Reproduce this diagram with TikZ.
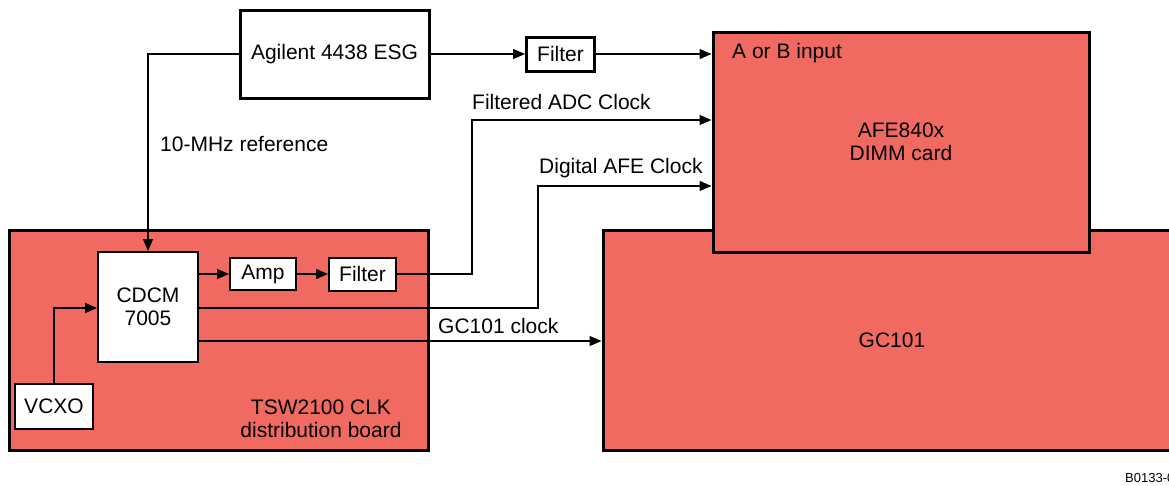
\documentclass[tikz,border=0pt]{standalone}
\usepackage{fontspec}
\setmainfont{Liberation Sans}
\usetikzlibrary{arrows.meta}
\definecolor{boardred}{RGB}{240,106,98}
\begin{document}
\begin{tikzpicture}[x=1pt,y=-1pt, font=\fontsize{21}{23}\selectfont,
  board/.style={draw=black, line width=3pt, fill=boardred, inner sep=0pt, align=center},
  blk/.style={draw=black, line width=2pt, fill=white, inner sep=0pt, align=center},
  lbl/.style={inner sep=0pt, anchor=west},
  conn/.style={line width=1.2pt, -{Triangle[length=12pt,width=10pt]}}]
\useasboundingbox (0,0) rectangle (1169,485);
% boards
\node[board, minimum width=419pt, minimum height=220pt] (tsw) at (219,340) {};
\node[board, minimum width=578pt, minimum height=220pt] (gc) at (892,340) {GC101};
\node[board, minimum width=376pt, minimum height=220pt] (afe) at (901,142) {AFE840x\\DIMM card};
\node[align=center, inner sep=0pt] (tswlbl) at (321,419) {TSW2100 CLK\\distribution board};
% blocks
\node[blk, line width=3pt, minimum width=189pt, minimum height=88pt] (agilent) at (334.5,54) {Agilent 4438 ESG};
\node[blk, line width=3pt, minimum width=68pt, minimum height=34pt] (filt1) at (560.5,54) {Filter};
\node[blk, minimum width=100pt, minimum height=110pt] (cdcm) at (148,307) {CDCM\\7005};
\node[blk, minimum width=66pt, minimum height=32pt] (amp) at (263,274) {Amp};
\node[blk, minimum width=67pt, minimum height=33pt] (filt2) at (362.5,274) {Filter};
\node[blk, minimum width=78pt, minimum height=45pt] (vcxo) at (54,406) {VCXO};
% helper coordinates
\coordinate (adc) at (472,120);
\coordinate (dig) at (538,186);
\coordinate (y308) at (0,308);
\coordinate (y341) at (0,341);
% connectors
\draw[conn] (agilent.west) -| (cdcm.north);
\draw[conn] (agilent.east) -- (filt1.west);
\draw[conn] (filt1.east) -- (filt1.east -| afe.west);
\draw[conn] (cdcm.east |- amp.west) -- (amp.west);
\draw[conn] (amp.east) -- (filt2.west);
\draw[conn] (filt2.east) -| (adc) -- (adc -| afe.west);
\draw[conn] (cdcm.east |- y308) -| (dig) -- (dig -| afe.west);
\draw[conn] (cdcm.east |- y341) -- (gc.west |- y341);
\draw[conn] (vcxo.north) |- (cdcm.west |- y308);
% labels
\node[lbl] (ref) at (160,144) {10-MHz reference};
\node[lbl] (fadc) at (472,102) {Filtered ADC Clock};
\node[lbl] (dafe) at (539,168) {Digital AFE Clock};
\node[lbl] (gcclk) at (438,326) {GC101 clock};
\node[lbl] (aob) at (732,53) {A or B input};
\node[lbl, font=\fontsize{13}{15}\selectfont] (code) at (1125,478) {B0133-01};
\end{tikzpicture}
\end{document}
